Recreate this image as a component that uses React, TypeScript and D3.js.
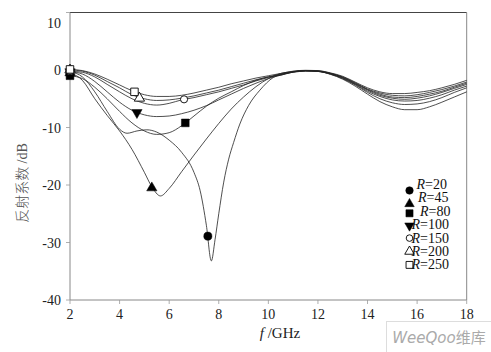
import React from 'react';
import * as d3 from 'd3';

const xTicks = [2, 4, 6, 8, 10, 12, 14, 16, 18];
const yTicks = [-40, -30, -20, -10, 0, 10];
const seriesR = ['20', '45', '80', '100', '150', '200', '250'];

// right-hand common part frequencies
const fRight = [10.5, 11, 11.5, 12, 12.5, 13, 13.5, 14, 14.5, 15, 15.5, 16, 16.5, 17, 17.5, 18];

const f20 = [2, 2.5, 3, 3.5, 4, 4.3, 4.7, 5.1, 5.5, 6, 6.5, 7, 7.25, 7.5, 7.7, 7.85, 8.0, 8.2, 8.4, 8.6, 8.85, 9.2, 9.66, 10.2, 10.7, 11, 11.5, 12, 12.5, 13, 13.5, 14, 14.5, 15, 15.5, 16, 16.5, 17, 17.5, 18];
const v20 = [-0.3, -1.2, -3.8, -7.2, -10.3, -11.0, -10.6, -10.4, -10.8, -12.2, -14.3, -17.8, -21, -27, -33.2, -29.5, -25, -19.5, -15.5, -12.6, -9.4, -6.2, -3.5, -1.3, -0.6, -0.4, -0.2, -0.25, -0.75, -1.6, -2.8, -4.2, -5.5, -6.4, -6.9, -6.9, -6.4, -5.6, -4.7, -3.8];

const f45 = [2, 2.5, 3, 3.5, 4, 4.5, 5, 5.3, 5.65, 6, 6.5, 7, 7.5, 8, 8.5, 9, 9.5, 10, ...fRight];
const v45 = [-0.5, -1.8, -5.0, -7.9, -10.6, -13.8, -17.8, -20.3, -21.9, -20.6, -17.7, -14.8, -12, -9.3, -6.8, -4.7, -2.9, -1.5, -0.6, -0.3, -0.15, -0.25, -0.7, -1.5, -2.6, -3.9, -5.0, -5.7, -6.0, -5.9, -5.5, -4.8, -3.9, -3.1];

const fLeft = [2, 2.5, 3, 3.5, 4, 4.5, 5, 5.5, 6, 6.5, 7, 7.5, 8, 8.5, 9, 9.5, 10];
const f80 = [...fLeft, ...fRight];
const v80 = [-1.0, -1.5, -3.0, -5.0, -7.2, -9.2, -10.6, -11.2, -10.9, -9.7, -8.0, -6.3, -4.9, -3.8, -2.7, -1.8, -1.2, -0.9, -0.35, -0.15, -0.2, -0.7, -1.4, -2.5, -3.7, -4.6, -5.2, -5.4, -5.3, -4.9, -4.3, -3.5, -2.8];

const f100 = [...fLeft, ...fRight];
const v100 = [-0.3, -0.7, -2.0, -3.8, -5.6, -7.0, -7.8, -8.1, -8.0, -7.6, -7.0, -6.2, -5.2, -4.2, -3.2, -2.3, -1.5, -0.9, -0.35, -0.1, -0.2, -0.6, -1.3, -2.4, -3.5, -4.4, -4.9, -5.1, -4.9, -4.5, -3.9, -3.2, -2.5];

const f150 = [...fLeft, ...fRight];
const v150 = [-0.2, -0.4, -1.2, -2.5, -3.8, -5.0, -5.8, -6.1, -5.8, -5.2, -4.8, -4.3, -3.8, -3.2, -2.6, -1.9, -1.3, -0.8, -0.3, -0.1, -0.2, -0.6, -1.3, -2.3, -3.4, -4.2, -4.7, -4.8, -4.6, -4.2, -3.7, -3.0, -2.3];

const f200 = [...fLeft, ...fRight];
const v200 = [0, -0.2, -0.9, -2.0, -3.1, -4.3, -5.0, -5.3, -5.2, -4.9, -4.5, -4.0, -3.5, -2.9, -2.3, -1.7, -1.2, -0.7, -0.25, -0.1, -0.15, -0.55, -1.2, -2.2, -3.3, -4.0, -4.4, -4.5, -4.3, -3.9, -3.4, -2.8, -2.1];

const f250 = [...fLeft, ...fRight];
const v250 = [0.1, -0.1, -0.7, -1.6, -2.6, -3.6, -4.3, -4.6, -4.6, -4.4, -4.0, -3.5, -3.0, -2.4, -1.9, -1.4, -1.0, -0.6, -0.2, -0.05, -0.1, -0.5, -1.1, -2.1, -3.1, -3.8, -4.1, -4.1, -3.9, -3.6, -3.1, -2.5, -1.8];

const seriesF = [f20, f45, f80, f100, f150, f200, f250];
const seriesV = [v20, v45, v80, v100, v150, v200, v250];

// marker points (frequency, dB)
const markF = [[2, 7.56], [2, 5.3], [2, 6.65], [2, 4.7], [2, 6.6], [2, 4.8], [2, 4.6]];
const markV = [[-0.3, -28.9], [-0.5, -20.5], [-1.0, -9.2], [-0.3, -7.4], [-0.2, -5.1], [0, -4.9], [0.1, -3.8]];

const W = 491;
const H = 352;
const serif = "'Liberation Serif', 'Times New Roman', Times, serif";

function Marker({ i, cx, cy, s = 1 }: { i: number; cx: number; cy: number; s?: number }) {
  const types = [d3.symbolCircle, d3.symbolTriangle, d3.symbolSquare, d3.symbolTriangle, d3.symbolCircle, d3.symbolTriangle, d3.symbolSquare];
  const sizes = [52, 46, 60, 46, 40, 46, 56];
  const filled = i < 4;
  const path = d3.symbol(types[i], sizes[i] * s)() as string;
  const rot = i === 3 ? 180 : 0;
  return (
    <path
      d={path}
      transform={`translate(${cx},${cy}) rotate(${rot})`}
      fill={filled ? '#000' : '#fff'}
      stroke="#000"
      strokeWidth={filled ? 0.5 : 0.9}
    />
  );
}

export default function App() {
  const x = d3.scaleLinear().domain([2, 18]).range([70, 466.7]);
  const y = d3.scaleLinear().domain([-40, 10]).range([300, 12.5]);
  const line = d3
    .line<[number, number]>()
    .x((d) => x(d[0]))
    .y((d) => y(d[1]))
    .curve(d3.curveMonotoneX);

  const legendRowY = [184.5, 197.9, 211.3, 224.7, 238.1, 251.5, 264.9];
  const legendMarkerDy = [6, 6, 2, 1, 0, 0, 0];
  const legendTextX = [416.5, 418, 420, 411.5, 411.5, 411.5, 411.5];

  return (
    <svg width={W} height={H} style={{ position: 'absolute', left: 0, top: 0, background: '#fff' }}>
      <rect x={0} y={0} width={W} height={H} fill="#fff" />
      {/* frame */}
      <line x1={70} x2={466.7} y1={12.5} y2={12.5} stroke="#444" strokeWidth={1} />
      <line x1={466.7} x2={466.7} y1={12.5} y2={300} stroke="#888" strokeWidth={1} />
      <line x1={70} x2={70} y1={12.5} y2={300} stroke="#888" strokeWidth={1} />
      <line x1={70} x2={466.7} y1={300} y2={300} stroke="#888" strokeWidth={1} />

      {/* y ticks */}
      {yTicks.map((t) => (
        <g key={'y' + t}>
          <line x1={66} x2={70} y1={y(t)} y2={y(t)} stroke="#999" strokeWidth={0.8} />
          <text
            x={61}
            y={Math.max(y(t), 23) + 5}
            textAnchor="end"
            fontFamily={serif}
            fontSize={14}
            fill="#222"
          >
            {t}
          </text>
        </g>
      ))}
      {/* x ticks */}
      {xTicks.map((t) => (
        <g key={'x' + t}>
          <line x1={x(t)} x2={x(t)} y1={300} y2={304} stroke="#999" strokeWidth={0.8} />
          <text x={x(t)} y={319} textAnchor="middle" fontFamily={serif} fontSize={14} fill="#222">
            {t}
          </text>
        </g>
      ))}

      {/* axis titles */}
      <text x={280} y={338} textAnchor="middle" fontFamily={serif} fontSize={15} fill="#222">
        <tspan fontStyle="italic">f</tspan>
        <tspan> /GHz</tspan>
      </text>
      <text
        transform="translate(27,183) rotate(-90)"
        textAnchor="middle"
        fontFamily="'Noto Sans CJK SC', sans-serif"
        fontSize={14}
        fill="#555"
      >
        <tspan fontWeight={300}>反射系数</tspan>
        <tspan fontFamily={serif}> /dB</tspan>
      </text>

      {/* curves */}
      {seriesF.map((fs, i) => (
        <path
          key={'c' + i}
          d={line(fs.map((f, k) => [f, seriesV[i][k]] as [number, number])) as string}
          fill="none"
          stroke="#222"
          strokeWidth={0.8}
        />
      ))}

      {/* markers */}
      {markF.map((fs, i) =>
        fs.map((f, k) => <Marker key={'m' + i + '-' + k} i={i} cx={x(f)} cy={y(markV[i][k])} />)
      )}

      {/* legend */}
      {seriesR.map((r, i) => (
        <g key={'l' + i}>
          <Marker i={i} cx={409.5} cy={legendRowY[i] + legendMarkerDy[i]} s={0.85} />
          <text x={legendTextX[i]} y={legendRowY[i] + 4.5} fontFamily={serif} fontSize={14} fill="#111">
            <tspan fontStyle="italic">R</tspan>
            <tspan>={r}</tspan>
          </text>
        </g>
      ))}

      {/* watermark */}
      <rect x={386.5} y={321.5} width={110} height={40} fill="#fff" stroke="#ddd" strokeWidth={1} />
      <text x={439} y={343} textAnchor="middle" fontSize={15} fill="#aaa">
        <tspan fontFamily="'DejaVu Sans', sans-serif" fontStyle="italic">WeeQoo</tspan>
        <tspan fontFamily="'Noto Sans CJK SC', sans-serif">维库</tspan>
      </text>
    </svg>
  );
}
